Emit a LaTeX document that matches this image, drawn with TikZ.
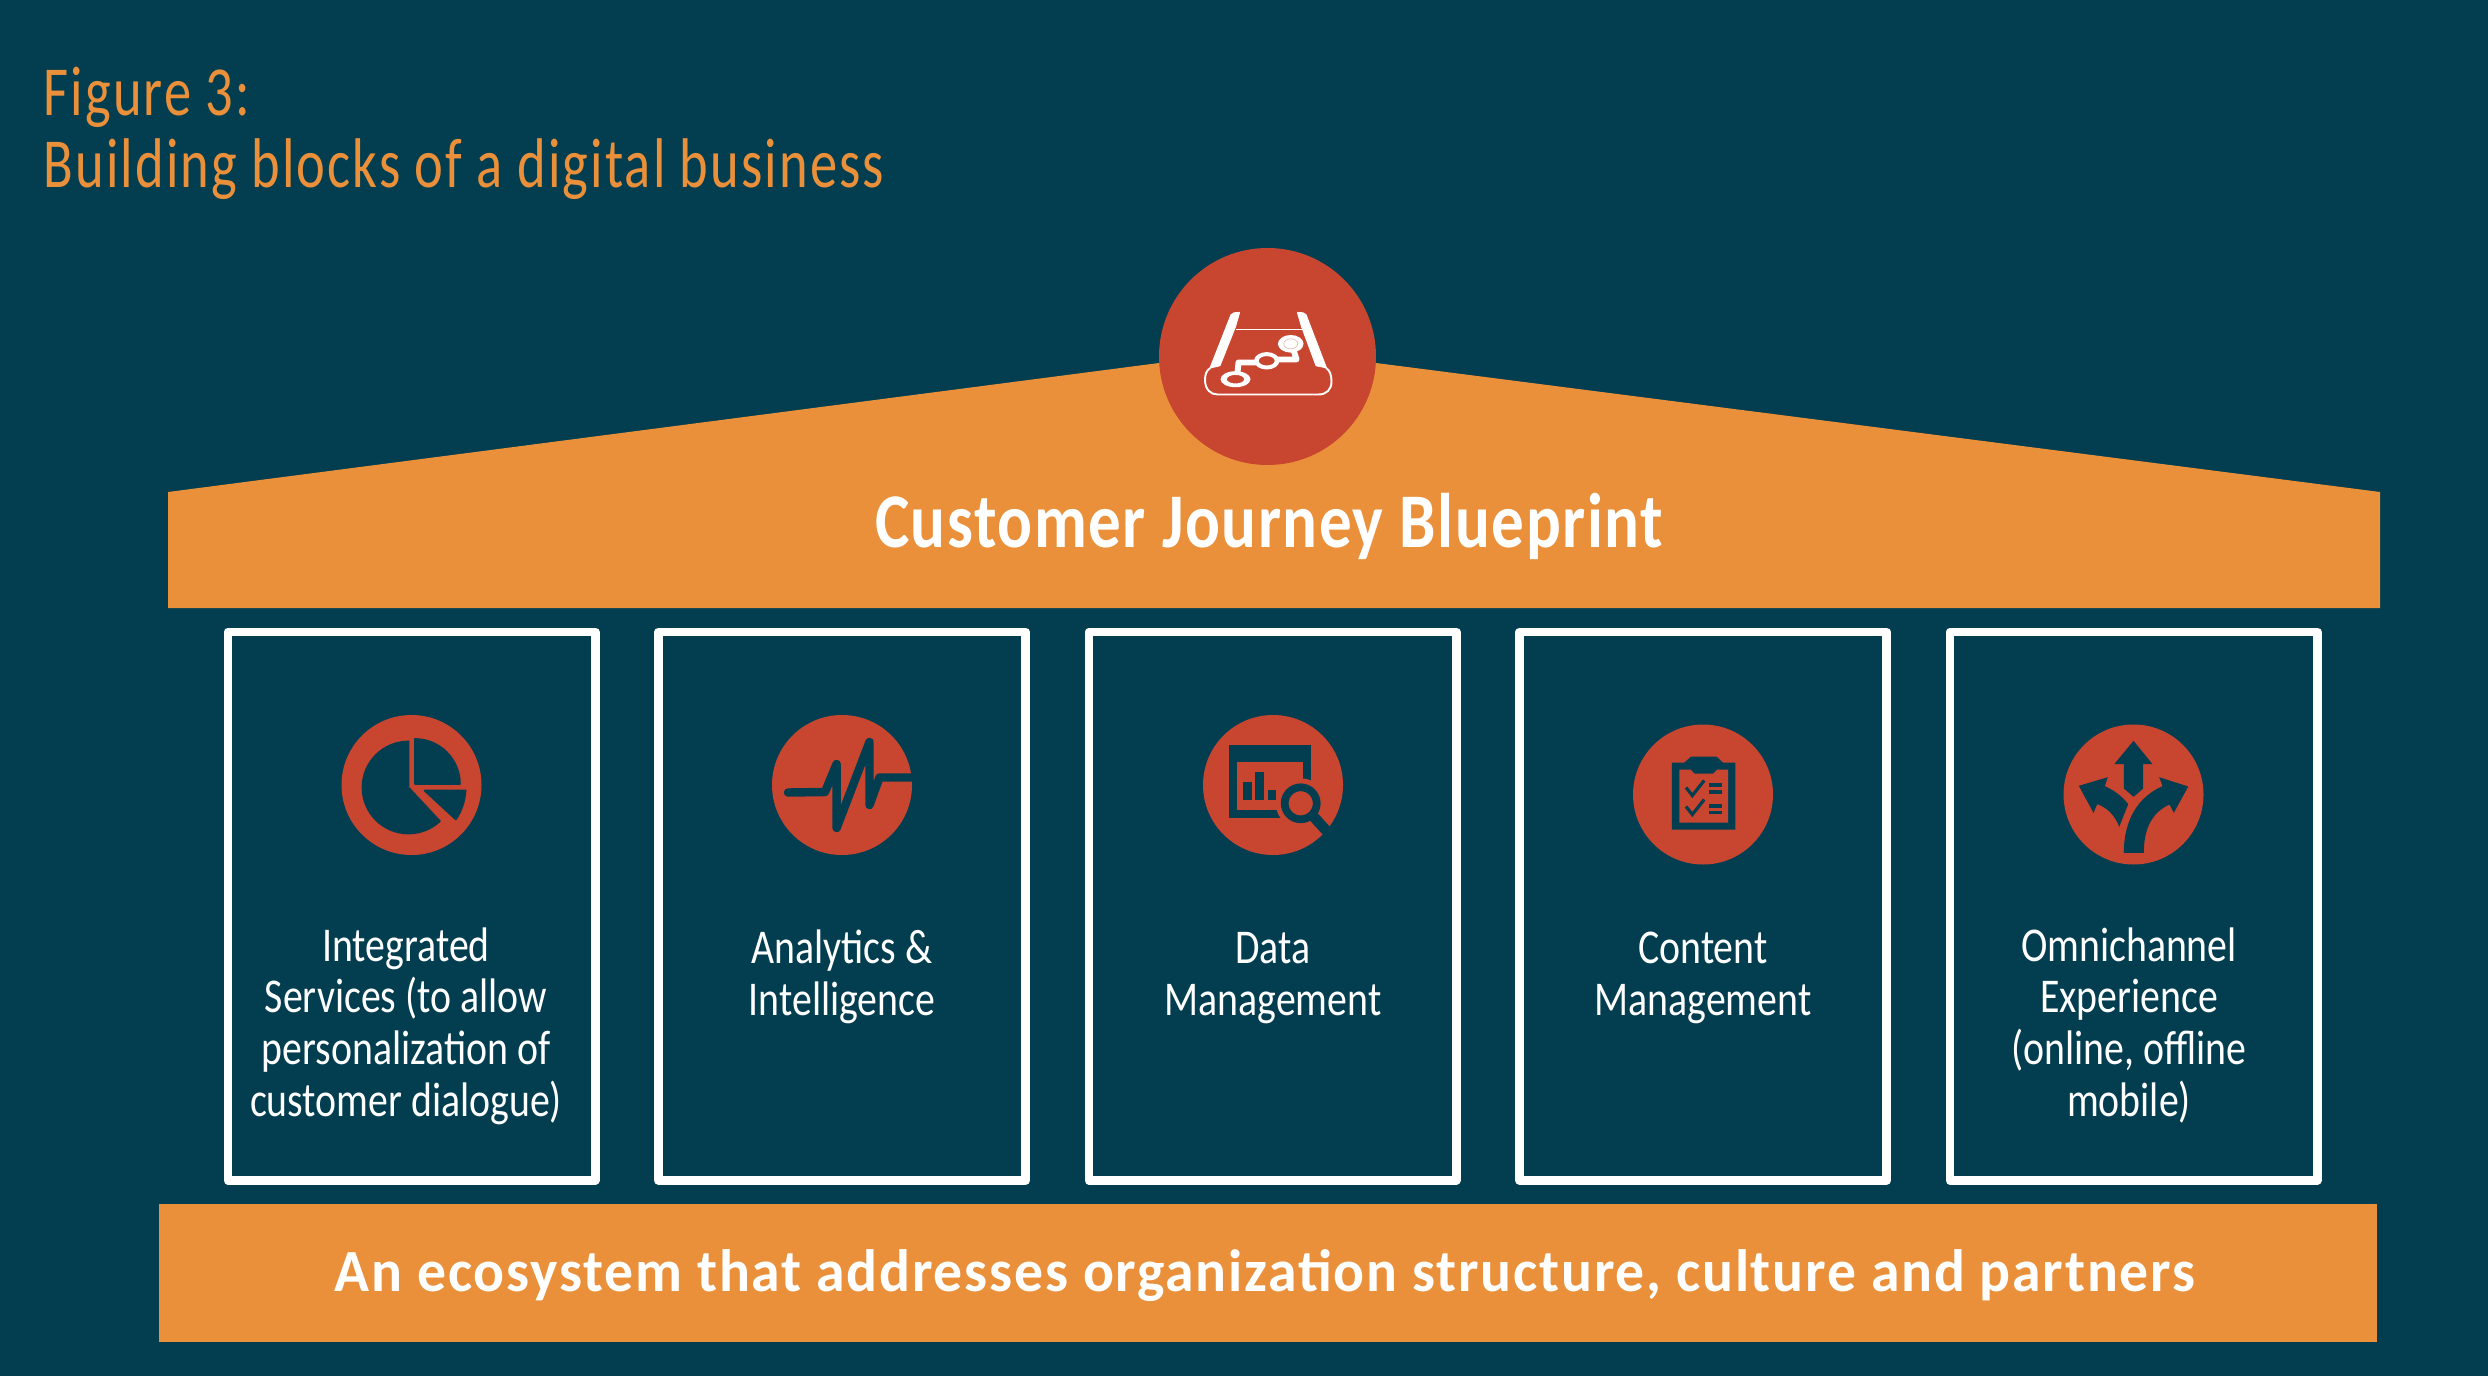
\documentclass[tikz,border=0pt]{standalone}
\usepackage{fontspec}
\usepackage{xcolor}
\usepackage{tikz}
\setmainfont{Carlito}
\newfontfamily\boxfont[FakeStretch=0.82]{Carlito}
\newfontfamily\roofont[LetterSpace=2,FakeStretch=0.84]{Carlito}
\newfontfamily\barfont[LetterSpace=3,FakeStretch=0.965]{Carlito}
\newfontfamily\titlefont[LetterSpace=3,FakeStretch=0.775]{Carlito}
\definecolor{bg}{HTML}{023E50}
\definecolor{amber}{HTML}{EB903A}
\definecolor{brick}{HTML}{C84530}
\tikzset{
  frame/.style={draw=white, line width=2.5pt, line join=round, minimum width=3.67cm, minimum height=5.48cm, inner sep=0pt, outer sep=0pt, anchor=north west},
  disc/.style={fill=brick},
  cut/.style={fill=bg, draw=bg, line width=0.5pt, line join=round},
  cutline/.style={draw=bg, line width=2.4pt, line join=round, line cap=round},
  ink/.style={fill=white, draw=white, line width=0.3pt, line join=round},
  inkline/.style={draw=white, line width=0.55pt, line join=round},
  boxlab/.style={text=white, align=center, anchor=base, inner sep=0pt, font=\boxfont\fontsize{13.8}{14.65}\selectfont},
  barlab/.style={text=white, inner sep=0pt, anchor=base, font=\barfont\bfseries\fontsize{17}{20}\selectfont},
  titlelab/.style={text=amber, anchor=base west, inner sep=0pt, font=\titlefont\fontsize{20}{20}\selectfont}
}
\begin{document}
\begin{tikzpicture}[x=0.01cm,y=-0.01cm]
  \fill[bg] (0,0) rectangle (2488,1376);
  \useasboundingbox (0,0) rectangle (2488,1376);
  \node[titlelab] (fig) at (43,116) {Figure 3:};
  \node[titlelab] (title) at (43,188) {Building blocks of a digital business};
  % roof and floor
  \fill[amber] (168,492) -- (1159,363) -- (1376,363) -- (2380,492) -- (2380,608) -- (168,608) -- cycle;
  \fill[amber] (159,1204) rectangle (2377,1342);
  \node[barlab, font=\roofont\bfseries\fontsize{22}{28}\selectfont] (blueprint) at (1269,547) {Customer Journey Blueprint};
  \node[barlab] (ecosystem) at (1265,1291) {An ecosystem that addresses organization structure, culture and partners};
  % the five pillars
  \node[frame] (box1) at (228,632) {};
  \node[frame] (box2) at (658.5,632) {};
  \node[frame] (box3) at (1089,632) {};
  \node[frame] (box4) at (1519.5,632) {};
  \node[frame] (box5) at (1950,632) {};
  \node[boxlab] (lab1) at (406,1116) {Integrated\\Services (to allow\\personalization of\\customer dialogue)};
  \node[boxlab] (lab2) at (842,1015) {Analytics \&\\Intelligence};
  \node[boxlab] (lab3) at (1273,1015) {Data\\Management};
  \node[boxlab] (lab4) at (1703,1015) {Content\\Management};
  \node[boxlab] (lab5) at (2129,1116) {Omnichannel\\Experience\\(online, offline\\mobile)};
  % blueprint icon
  \begin{scope}[shift={(1267.5,356.5)}]
    \fill[disc] (0,0) circle (108.5);
    \fill[ink] (-28,-44) .. controls (-33,-44) and (-35.5,-43.5) .. (-36.5,-41.7) -- (-57.5,11.7) .. controls (-53,10) and (-49,10) .. (-47.5,9) -- (-32,-30) .. controls (-31,-34) and (-29,-40) .. (-28,-44) -- cycle;
    \fill[ink] (30,-44) .. controls (35,-44) and (37.5,-43.5) .. (38.5,-41.7) -- (59,11.7) .. controls (55,10) and (51,10) .. (48.5,9) -- (34,-30) .. controls (33,-34) and (31,-40) .. (30,-44) -- cycle;
    \draw[inkline, line width=0.4pt] (-32,-27) -- (34,-27);
    \draw[inkline] (-57.5,11.7) .. controls (-61,14) and (-62.5,18) .. (-62.5,23) .. controls (-62.5,33) and (-57,38) .. (-50,38) -- (51,38) .. controls (59,38) and (64,33) .. (64,25) .. controls (64,18) and (62,14) .. (59,11.7);
    \draw[inkline, line width=1.7pt] (-30,16) -- (-29,6) -- (-11,6);
    \draw[inkline, line width=1.7pt] (10,3) -- (29,3) -- (25,-10);
    \fill[white, even odd rule] (-32,22.7) ellipse (15 and 8) (-32,22.7) ellipse (8.7 and 4.3);
    \fill[white, even odd rule] (-0.8,4.3) ellipse (12.7 and 8.7) (-0.8,4.3) ellipse (8 and 4.7);
    \fill[white] (23.2,-12.7) ellipse (12.8 and 8.8);
    \draw[brick!35, line width=0.2pt] (23.2,-12.7) ellipse (7 and 5);
  \end{scope}
  % pie chart icon
  \begin{scope}[shift={(411.5,785)}]
    \fill[disc] (0,0) circle (70);
    \filldraw[cut] (-3,2.5) -- ++(-90:46) arc[start angle=-90, end angle=-313, radius=46] -- cycle;
    \filldraw[cut] (3.4,-1) -- ++(-90:45) arc[start angle=-90, end angle=0, radius=45] -- cycle;
    \filldraw[cut] (13,5.5) -- (54,5.5) arc[start angle=3, end angle=34, radius=57] -- cycle;
  \end{scope}
  % pulse icon
  \begin{scope}[shift={(842,785)}]
    \fill[disc] (0,0) circle (70);
    \draw[cutline] (-54,7.5) -- (-17,7) -- (-5.4,-21) -- (-5.4,43) -- (27.5,-43) -- (27.5,20) -- (37.5,-7.5) -- (72,-7.5);
  \end{scope}
  % report icon
  \begin{scope}[shift={(1273,785)}]
    \fill[disc] (0,0) circle (70);
    \fill[bg] (-44,-40) rectangle (38.4,32.7);
    \fill[disc] (-35.6,-22.7) rectangle (30.4,25);
    \fill[disc] (27.7,18.3) circle (25);
    \fill[bg] (-30,-3) rectangle (-21.4,15);
    \fill[bg] (-17.8,-13) rectangle (-9.5,15);
    \fill[bg] (-5.5,5) rectangle (2.8,15);
    \draw[bg, line width=2.2pt] (27.7,18.3) circle (16);
    \draw[bg, line width=3pt] (40,31) -- (60,53);
  \end{scope}
  % checklist icon
  \begin{scope}[shift={(1703,794.5)}]
    \fill[disc] (0,0) circle (70);
    \fill[bg] (-31.2,-32) -- (-18.6,-32) -- (-11.9,-38) -- (13.4,-38) -- (19.8,-32) -- (32.4,-32) -- (32.4,35) -- (-31.2,35) -- cycle;
    \fill[disc] (-23.7,-25) -- (-12.7,-25) -- (-8.7,-21) -- (10.3,-21) -- (14.2,-25) -- (25,-25) -- (25,28) -- (-23.7,28) -- cycle;
    \draw[bg, line width=0.9pt] (-17,-7) -- (-10.7,1) -- (1.2,-14);
    \draw[bg, line width=0.9pt] (-17,12) -- (-10.7,20) -- (1.2,5);
    \fill[bg] (6.3,-11.7) rectangle (19,-7.7);
    \fill[bg] (6.3,-5) rectangle (19,-1);
    \fill[bg] (6.3,9.7) rectangle (19,13);
    \fill[bg] (6.3,16) rectangle (19,19.7);
  \end{scope}
  % three way arrows icon
  \begin{scope}[shift={(2133.5,794.5)}]
    \fill[disc] (0,0) circle (70);
    \fill[bg] (0,-53.7) -- (19,-30.3) -- (9.7,-30.3) -- (9.7,-6) -- (0,2.3) -- (-9.7,-6) -- (-9.7,-30.3) -- (-19.3,-30.3) -- cycle;
    \fill[bg] (-54.7,-8.7) -- (-25.7,-17.3) -- (-28.7,-8.3) .. controls (-19,-4) and (-11,2) .. (-5.3,9.7) -- (-14.3,32.3) .. controls (-18,22) and (-26,13) .. (-36.3,9.7) -- (-40,18.3) -- cycle;
    \fill[bg] (54.7,-8) -- (25.7,-17.3) -- (29,-8.3) .. controls (5,2) and (-9.7,25) .. (-9.7,58.3) -- (10.3,58.3) .. controls (10.3,35) and (18,18) .. (36,10) -- (40.3,18.3) -- cycle;
  \end{scope}
\end{tikzpicture}
\end{document}
